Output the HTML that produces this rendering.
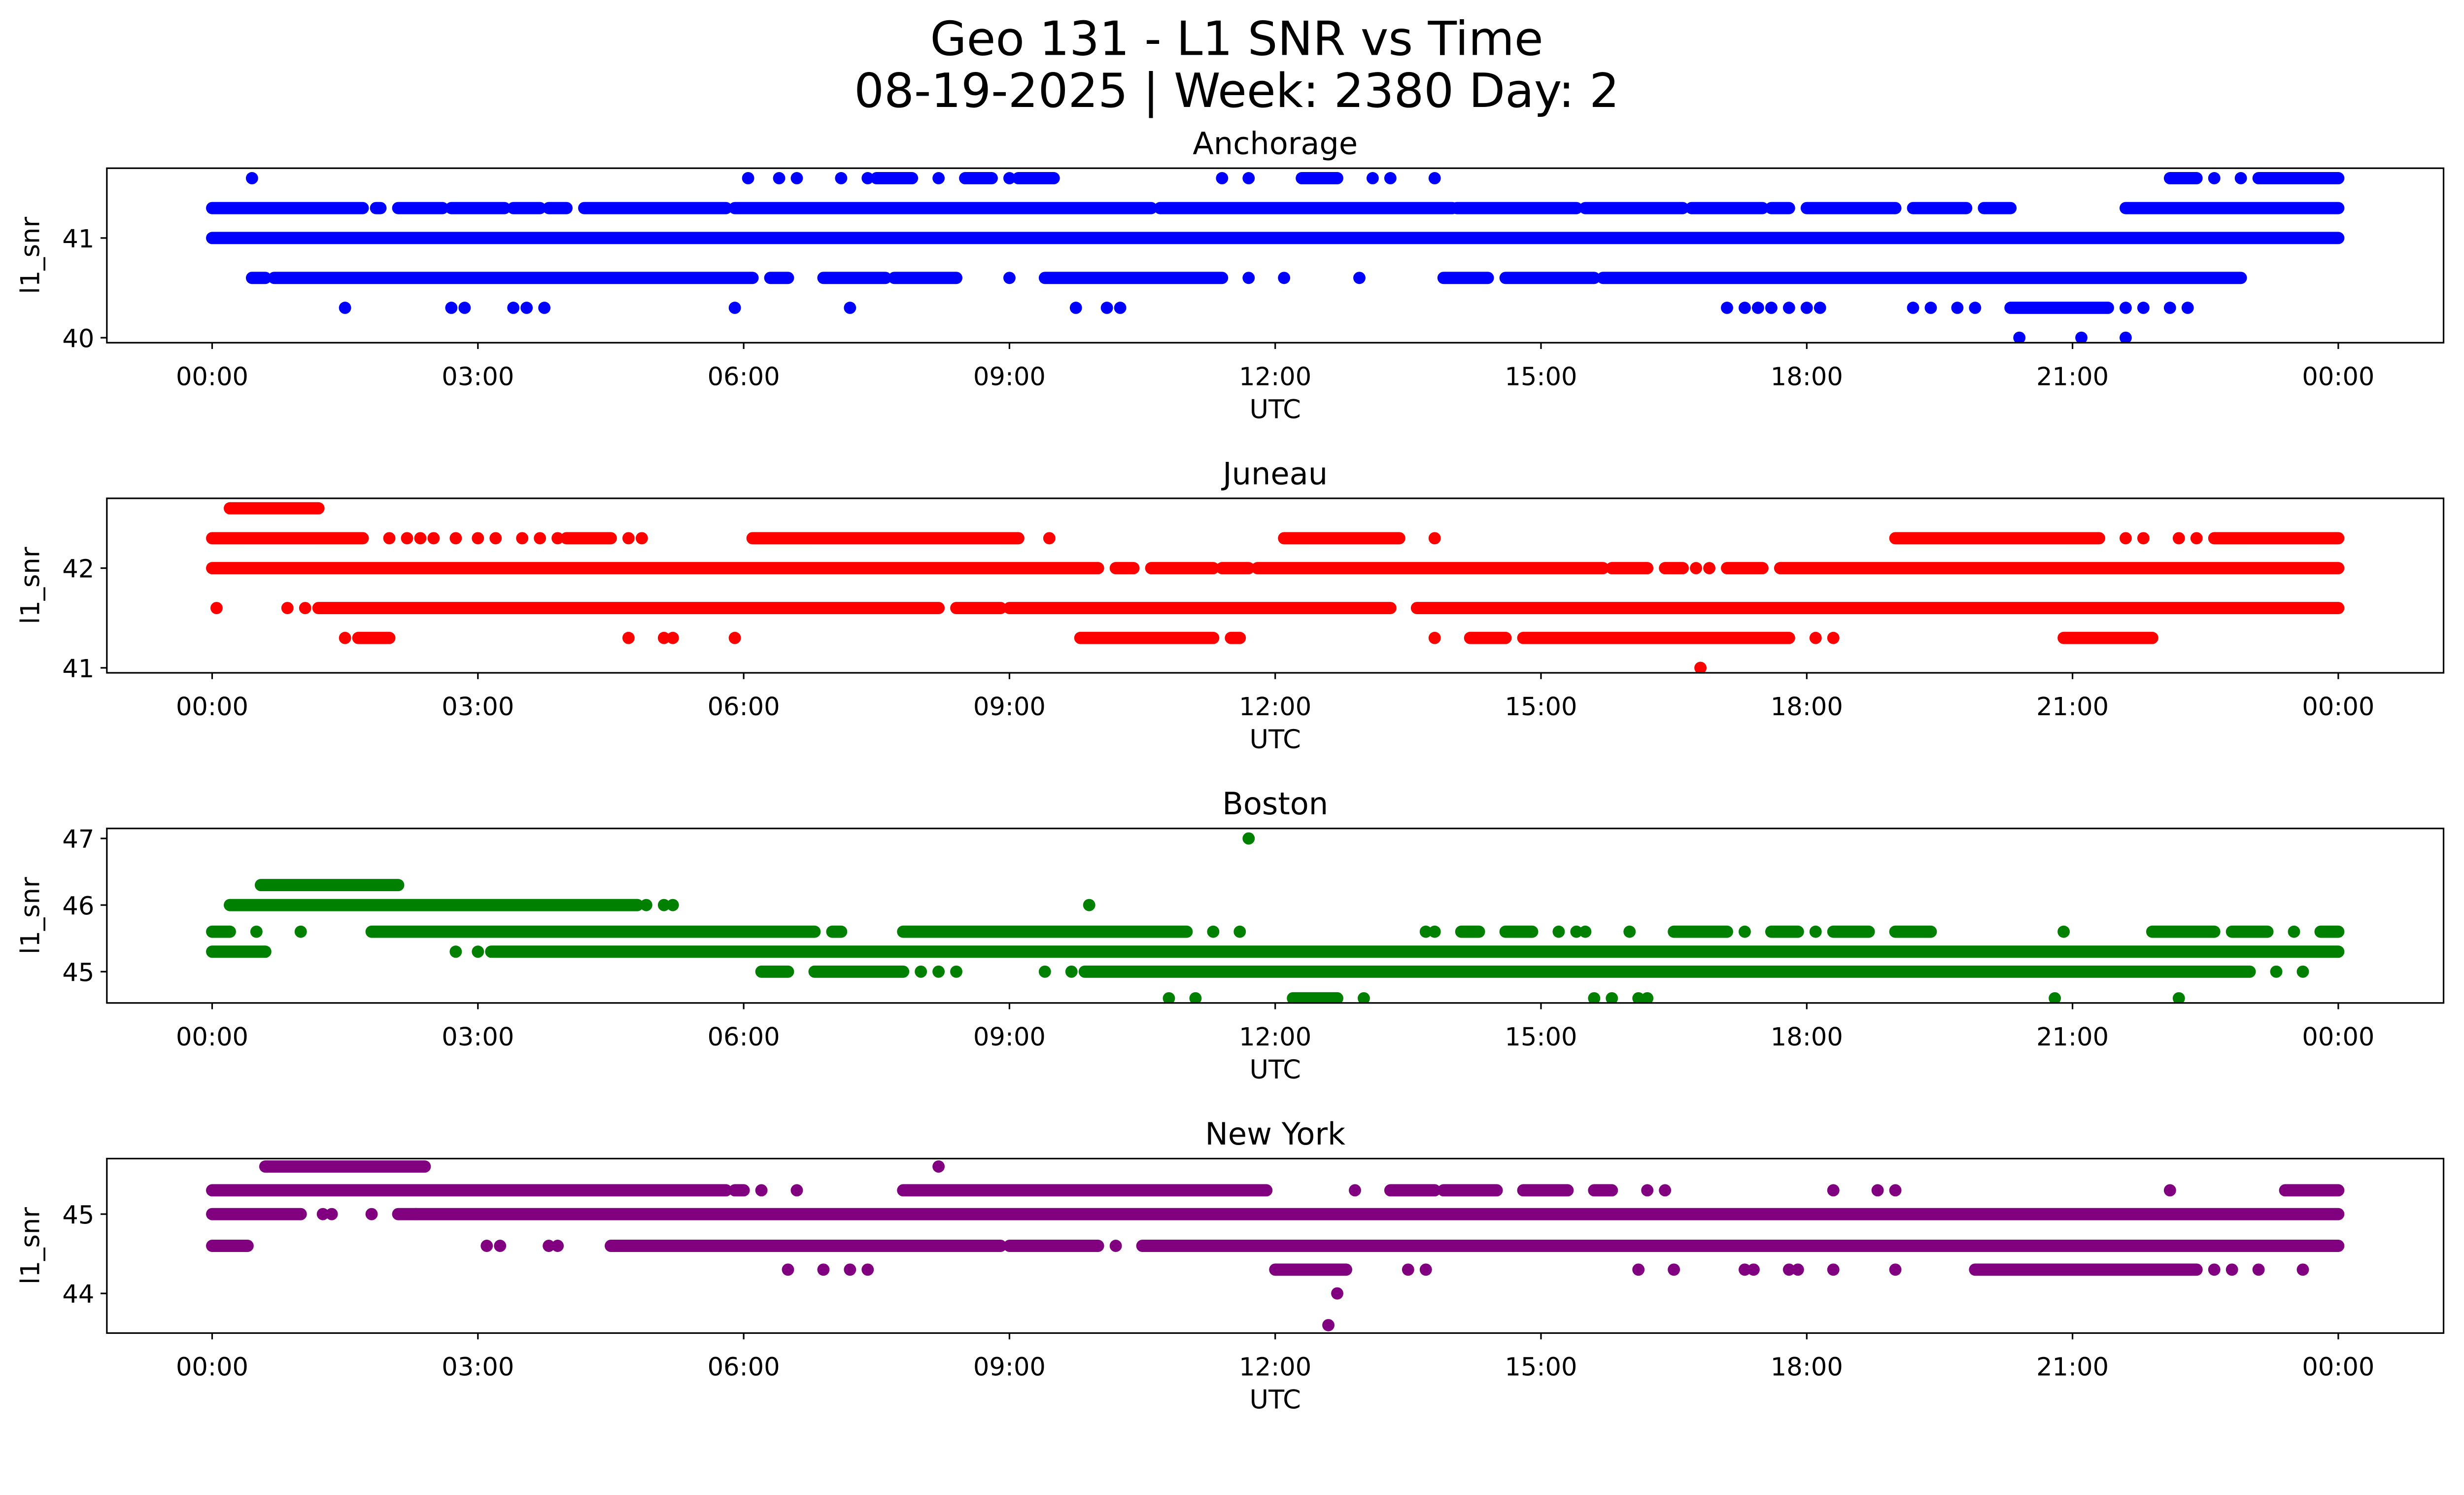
<!DOCTYPE html>
<html><head><meta charset="utf-8"><style>
html,body{margin:0;padding:0;background:#fff;overflow:hidden;width:100%;height:100%;}
svg{display:block;width:100vw;height:100vh;}
text{font-family:"DejaVu Sans","Liberation Sans",sans-serif;fill:#000;}
</style></head><body>
<svg id="fig" xmlns="http://www.w3.org/2000/svg" viewBox="0 0 1568 951" preserveAspectRatio="none">
<rect width="1568" height="951" fill="#fff"/>
<text x="787" y="35" font-size="30" text-anchor="middle">Geo 131 - L1 SNR vs Time</text>
<text x="787" y="68" font-size="30" text-anchor="middle">08-19-2025 | Week: 2380 Day: 2</text>
<g id="plots"></g>
</svg>
<script>
const xTickLabels = ["00:00","03:00","06:00","09:00","12:00","15:00","18:00","21:00","00:00"];
const stations = ["Anchorage","Juneau","Boston","New York"];
const colors = ["#0000ff","#ff0000","#008000","#800080"];
const yTicks = [[40,41],[41,42],[45,46,47],[44,45]];
const yRanges = [[39.95,41.7],[40.95,42.7],[44.53,47.15],[43.5,45.7]];
// runs: [level, startHour, endHour]
const anchorageRuns = [[41.0,0,24],
 [41.3,0,1.7],[41.3,1.85,1.9],[41.3,2.1,2.6],[41.3,2.7,3.3],[41.3,3.4,3.7],[41.3,3.8,4.0],[41.3,4.2,5.8],[41.3,5.9,10.6],[41.3,10.7,14.0],[41.3,14.05,15.4],[41.3,15.5,16.6],[41.3,16.7,17.5],[41.3,17.6,17.8],[41.3,18.0,19.0],[41.3,19.2,19.8],[41.3,20.0,20.3],[41.3,21.6,24],
 [41.6,7.5,7.9],[41.6,8.5,8.8],[41.6,9.1,9.5],[41.6,12.3,12.7],[41.6,22.1,22.4],[41.6,23.1,24],
 [40.6,0.45,0.6],[40.6,0.7,6.1],[40.6,6.3,6.5],[40.6,6.9,7.6],[40.6,7.7,8.4],[40.6,9.4,11.4],[40.6,13.9,14.4],[40.6,14.6,15.6],[40.6,15.7,22.9],
 [40.3,20.3,21.4]];
const anchoragePts = [[41.6,0.45],[41.6,6.05],[41.6,6.4],[41.6,6.6],[41.6,7.1],[41.6,7.4],[41.6,8.2],[41.6,9.0],[41.6,11.4],[41.6,11.7],[41.6,13.1],[41.6,13.3],[41.6,13.8],[41.6,22.6],[41.6,22.9],
 [40.6,9.0],[40.6,11.7],[40.6,12.1],[40.6,12.95],
 [40.3,1.5],[40.3,2.7],[40.3,2.85],[40.3,3.4],[40.3,3.55],[40.3,3.75],[40.3,5.9],[40.3,7.2],[40.3,9.75],[40.3,10.1],[40.3,10.25],[40.3,17.1],[40.3,17.3],[40.3,17.45],[40.3,17.6],[40.3,17.8],[40.3,18.0],[40.3,18.15],[40.3,19.2],[40.3,19.4],[40.3,19.7],[40.3,19.9],[40.3,21.6],[40.3,21.8],[40.3,22.1],[40.3,22.3],
 [40.0,20.4],[40.0,21.1],[40.0,21.6]];
const juneauRuns = [[42.6,0.2,1.2],
 [42.3,0,1.7],[42.3,4.0,4.5],[42.3,6.1,9.1],[42.3,12.1,13.4],[42.3,19.0,21.3],[42.3,22.6,24],
 [42.0,0,10.0],[42.0,10.2,10.4],[42.0,10.6,11.3],[42.0,11.4,11.7],[42.0,11.8,15.7],[42.0,15.8,16.2],[42.0,16.4,16.6],[42.0,17.1,17.5],[42.0,17.7,24],
 [41.6,1.2,8.2],[41.6,8.4,8.9],[41.6,9.0,13.3],[41.6,13.6,24],
 [41.3,1.65,2.0],[41.3,9.8,11.3],[41.3,11.5,11.6],[41.3,14.2,14.6],[41.3,14.8,17.8],[41.3,20.9,21.9]];
const juneauPts = [[42.3,2.0],[42.3,2.2],[42.3,2.35],[42.3,2.5],[42.3,2.75],[42.3,3.0],[42.3,3.2],[42.3,3.5],[42.3,3.7],[42.3,3.9],[42.3,4.7],[42.3,4.85],[42.3,9.45],[42.3,13.8],[42.3,21.6],[42.3,21.8],[42.3,22.2],[42.3,22.4],
 [42.0,16.75],[42.0,16.9],
 [41.6,0.05],[41.6,0.85],[41.6,1.05],
 [41.3,1.5],[41.3,4.7],[41.3,5.1],[41.3,5.2],[41.3,5.9],[41.3,13.8],[41.3,18.1],[41.3,18.3],
 [41.0,16.8]];
const bostonRuns = [[46.3,0.55,2.1],[46.0,0.2,4.8],
 [45.6,0,0.2],[45.6,1.8,6.8],[45.6,7.0,7.1],[45.6,7.8,11.0],[45.6,14.1,14.3],[45.6,14.6,14.9],[45.6,16.5,17.1],[45.6,17.6,17.9],[45.6,18.3,18.7],[45.6,19.0,19.4],[45.6,21.9,22.6],[45.6,22.8,23.2],[45.6,23.8,24],
 [45.3,0,0.6],[45.3,3.15,24],
 [45.0,6.2,6.5],[45.0,6.8,7.8],[45.0,9.85,23.0],
 [44.6,12.2,12.7]];
const bostonPts = [[47.0,11.7],[46.0,4.9],[46.0,5.1],[46.0,5.2],[46.0,9.9],
 [45.6,0.5],[45.6,1.0],[45.6,11.3],[45.6,11.6],[45.6,13.7],[45.6,13.8],[45.6,15.2],[45.6,15.4],[45.6,15.5],[45.6,16.0],[45.6,17.3],[45.6,18.1],[45.6,20.9],[45.6,23.5],
 [45.3,2.75],[45.3,3.0],
 [45.0,8.0],[45.0,8.2],[45.0,8.4],[45.0,9.4],[45.0,9.7],[45.0,23.3],[45.0,23.6],
 [44.6,10.8],[44.6,11.1],[44.6,13.0],[44.6,15.6],[44.6,15.8],[44.6,16.1],[44.6,16.2],[44.6,20.8],[44.6,22.2]];
const nyRuns = [[45.6,0.6,2.4],
 [45.3,0,5.8],[45.3,5.9,6.0],[45.3,7.8,11.9],[45.3,13.3,13.8],[45.3,13.9,14.5],[45.3,14.8,15.3],[45.3,15.6,15.8],[45.3,23.4,24],
 [45.0,0,1.0],[45.0,2.1,2.3],[45.0,2.3,24],
 [44.6,0,0.4],[44.6,4.5,8.9],[44.6,9.0,10.0],[44.6,10.5,24],
 [44.3,12.0,12.8],[44.3,19.9,22.4]];
const nyPts = [[45.6,8.2],[45.3,6.2],[45.3,6.6],[45.3,12.9],[45.3,16.2],[45.3,16.4],[45.3,18.3],[45.3,18.8],[45.3,19.0],[45.3,22.1],
 [45.0,1.25],[45.0,1.35],[45.0,1.8],
 [44.6,3.1],[44.6,3.25],[44.6,3.8],[44.6,3.9],[44.6,10.2],
 [44.3,6.5],[44.3,6.9],[44.3,7.2],[44.3,7.4],[44.3,13.5],[44.3,13.7],[44.3,16.1],[44.3,16.5],[44.3,17.3],[44.3,17.4],[44.3,17.8],[44.3,17.9],[44.3,18.3],[44.3,19.0],[44.3,22.6],[44.3,22.8],[44.3,23.1],[44.3,23.6],
 [44.0,12.7],[43.6,12.6]];
const allRuns=[anchorageRuns,juneauRuns,bostonRuns,nyRuns];
const allPts=[anchoragePts,juneauPts,bostonPts,nyPts];

const NS="http://www.w3.org/2000/svg";
const root=document.getElementById('plots');
const L=68,R=1555,X0=135,X1=1488,tops=[107,317,527,737],H=111,MR=3.9;
const xs=h=>X0+(X1-X0)*h/24;
function mk(tag,attrs,parent){const e=document.createElementNS(NS,tag);for(const k in attrs)e.setAttribute(k,attrs[k]);parent.appendChild(e);return e;}
for(let i=0;i<4;i++){
  const top=tops[i],bot=top+H,[y0,y1]=yRanges[i];
  const ys=v=>bot-(v-y0)/(y1-y0)*H;
  const g=mk('g',{},root);
  
  
  const clip=mk('clipPath',{id:'c'+i},g);mk('rect',{x:L,y:top,width:R-L,height:H},clip);
  const data=mk('g',{'clip-path':'url(#c'+i+')'},g);
  
  
  allRuns[i].forEach(r=>{const ln=mk('line',{x1:xs(r[1]),x2:xs(r[2]),y1:ys(r[0]),y2:ys(r[0]),stroke:colors[i],'stroke-width':MR*2,'stroke-linecap':'round'},data);
    
    });
  allPts[i].forEach(p=>{const c=mk('circle',{cx:xs(p[1]),cy:ys(p[0]),r:MR,fill:colors[i]},data);
    
    });
  const fr=mk('rect',{x:L,y:top,width:R-L,height:H,fill:'none',stroke:'#000','stroke-width':1},g);
  
  
  xTickLabels.forEach((t,k)=>{const x=xs(k*3);mk('line',{x1:x,x2:x,y1:bot,y2:bot+4,stroke:'#000','stroke-width':1},g);
    const tx=mk('text',{x:x,y:bot+27,'font-size':16,'text-anchor':'middle'},g);tx.textContent=t;
    
    });
  yTicks[i].forEach(v=>{const y=ys(v);mk('line',{x1:L-4,x2:L,y1:y,y2:y,stroke:'#000','stroke-width':1},g);
    const tx=mk('text',{x:L-8,y:y+6,'font-size':16,'text-anchor':'end'},g);tx.textContent=v;
    
    });
  const xl=mk('text',{x:(L+R)/2,y:bot+48,'font-size':16.5,'text-anchor':'middle'},g);xl.textContent='UTC';
  
  
  const yl=mk('text',{x:0,y:0,'font-size':16.5,'text-anchor':'middle',transform:`translate(25,${top+H/2}) rotate(-90)`},g);yl.textContent='l1_snr';
  
  
  const st=mk('text',{x:(L+R)/2,y:top-9,'font-size':19.5,'text-anchor':'middle'},g);st.textContent=stations[i];
  
  
}
</script>
</body></html>
